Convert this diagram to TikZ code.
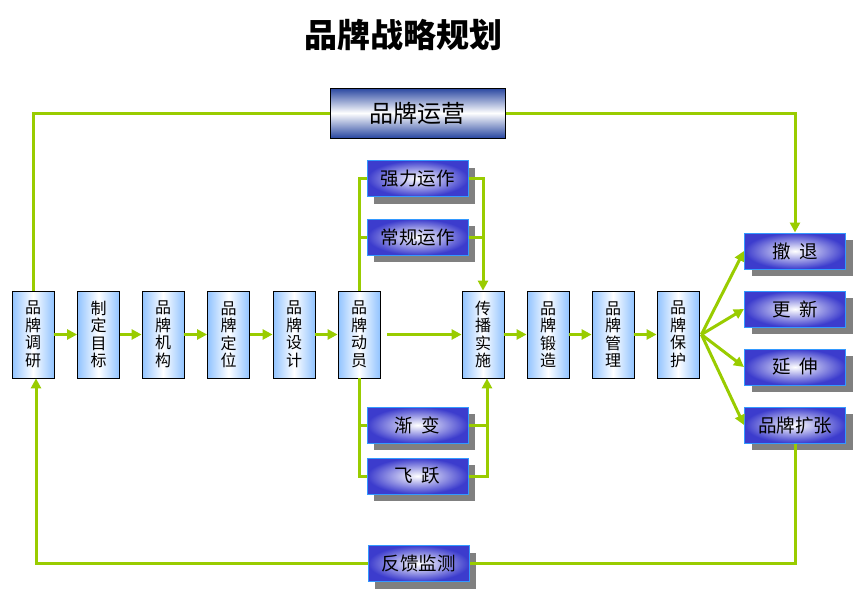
\documentclass[tikz,border=0pt]{standalone}
\usepackage{fontspec}
\setmainfont{Noto Sans CJK SC}
\usetikzlibrary{arrows.meta,shadows}

\definecolor{linegreen}{RGB}{153,204,0}
\definecolor{stageblue}{RGB}{145,195,255}
\definecolor{actviolet}{RGB}{60,60,205}
\definecolor{actedge}{RGB}{51,153,255}
\definecolor{opsblue}{RGB}{40,70,160}

\begin{document}
\begin{tikzpicture}[x=1pt,y=-1pt,
    stage/.style={draw=black, line width=0.8pt, minimum width=42pt, minimum height=87pt,
        inner sep=0pt, left color=stageblue, right color=stageblue, middle color=white,
        align=center, font=\fontsize{16}{17.5}\selectfont},
    act/.style={draw=actedge, line width=1pt, minimum width=101pt, minimum height=36pt,
        inner sep=0pt, inner color=white, outer color=actviolet,
        font=\fontsize{18.5}{20}\selectfont,
        drop shadow={fill=gray, opacity=1, shadow xshift=7pt, shadow yshift=-7pt}},
    link/.style={draw=linegreen, line width=3pt},
    flow/.style={link, -{Triangle[length=10pt,width=10pt]}}]

    \useasboundingbox (0,0) rectangle (863,600);

    % Title and top box
    \node[font=\fontsize{33}{36}\selectfont\bfseries] (title) at (403,35) {品牌战略规划};
    \node[draw=black, line width=1pt, minimum width=175pt, minimum height=50pt,
        top color=opsblue, bottom color=opsblue, middle color=white,
        font=\fontsize{24}{26}\selectfont] (ops) at (417.5,113) {品牌运营};

    % Main chain of stages
    \foreach \name/\x/\txt in {research/33/{品\\牌\\调\\研}, goal/98.5/{制\\定\\目\\标},
        org/163/{品\\牌\\机\\构}, position/228.5/{品\\牌\\定\\位},
        design/294/{品\\牌\\设\\计}, mobilize/359/{品\\牌\\动\\员},
        spread/483/{传\\播\\实\\施}, forge/548/{品\\牌\\锻\\造},
        manage/613/{品\\牌\\管\\理}, protect/678/{品\\牌\\保\\护}} {
        \node[stage] (\name) at (\x,334.5) {\txt};
    }

    % Ways of running
    \node[act] (strong) at (417.5,178.5) {强力运作};
    \node[act] (routine) at (417.5,237) {常规运作};
    \node[act] (gradual) at (417.5,425) {渐\ \ 变};
    \node[act] (leap) at (417.5,476) {飞\ \ 跃};
    \node[act] (feedback) at (418.5,563.5) {反馈监测};

    % Outcomes
    \node[act] (retreat) at (795,251) {撤\ \ 退};
    \node[act] (renew) at (795,309) {更\ \ 新};
    \node[act] (extend) at (795,367) {延\ \ 伸};
    \node[act] (expand) at (795,425) {品牌扩张};

    % Connectors
    \draw[link] (research.north) |- (ops.west);
    \draw[flow] (ops.east) -| (retreat.north);

    \foreach \a/\b in {research/goal, goal/org, org/position, position/design,
        design/mobilize, spread/forge, forge/manage, manage/protect} {
        \draw[flow] (\a) -- (\b);
    }
    \draw[flow] ([xshift=7pt]mobilize.east) -- (spread.west);

    \draw[link] (mobilize.north) |- (strong.west);
    \draw[link] (mobilize.north |- routine.west) -- (routine.west);
    \draw[flow] (strong.east) -| (spread.north);
    \draw[link] (routine.east) -- (routine.east -| spread.north);

    \coordinate (lowjoin) at ([xshift=4pt]spread.south);
    \draw[link] (mobilize.south) |- (leap.west);
    \draw[link] (mobilize.south |- gradual.west) -- (gradual.west);
    \draw[flow] (leap.east) -| (lowjoin);
    \draw[link] (gradual.east) -- ([xshift=2pt]gradual.east -| lowjoin);

    \coordinate (fan) at ([xshift=2pt]protect.east);
    \foreach \t in {retreat, renew, extend, expand} {
        \draw[flow] (fan) -- (\t.west);
    }

    \coordinate (backjoin) at ([xshift=3pt]research.south);
    \draw[link] (expand.south) |- (feedback.east);
    \draw[flow] (feedback.west) -| (backjoin);
\end{tikzpicture}
\end{document}
